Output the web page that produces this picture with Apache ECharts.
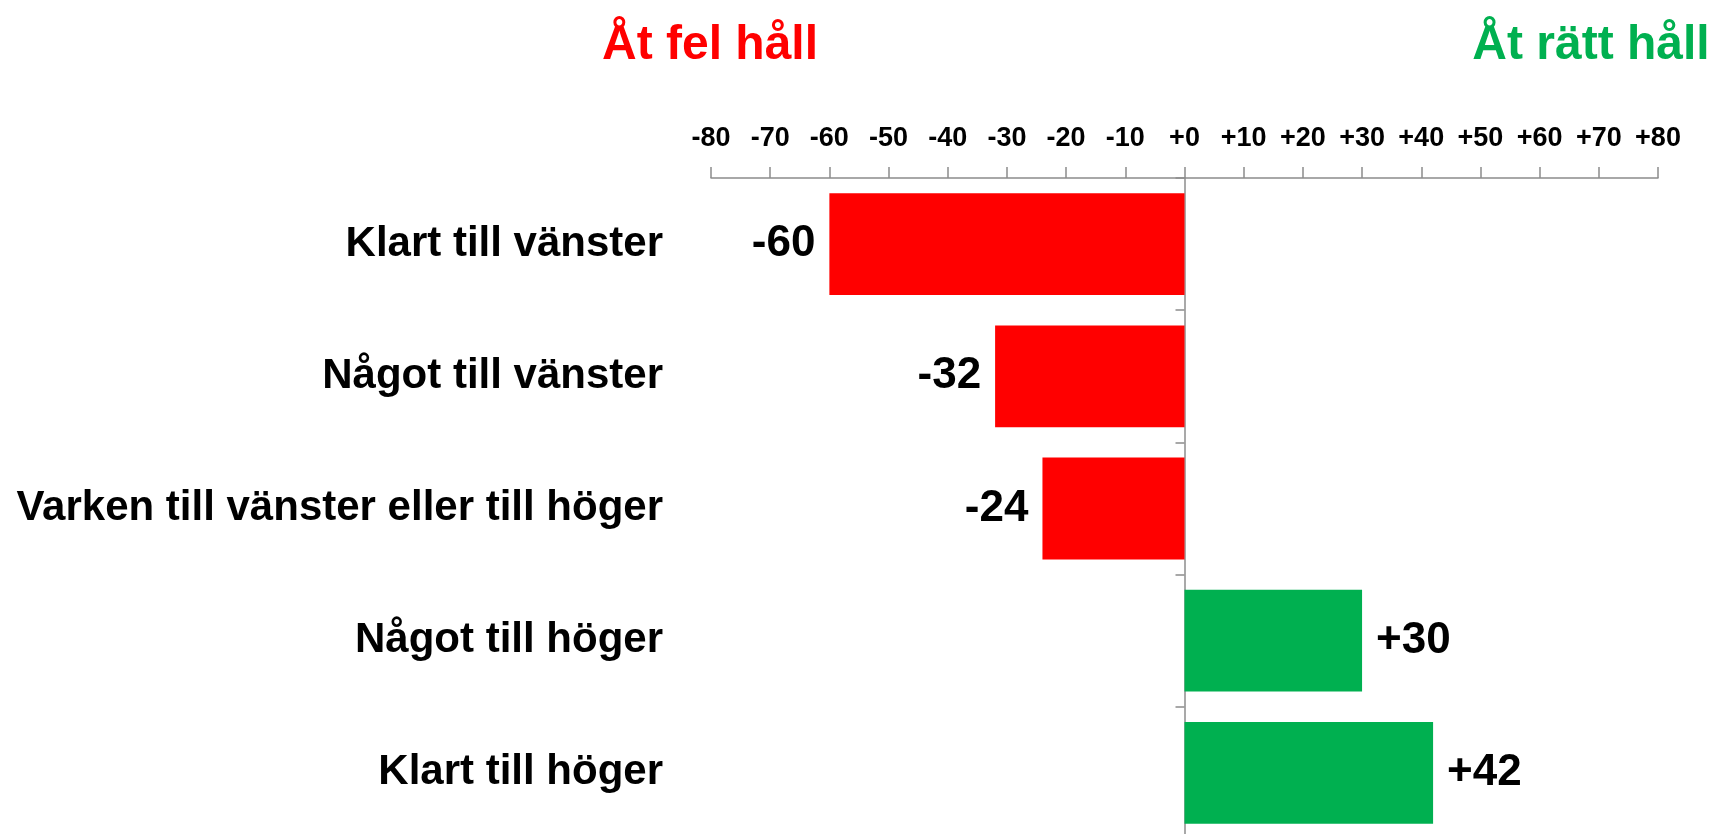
<!DOCTYPE html>
<html>
<head>
<meta charset="utf-8">
<script src="https://cdn.jsdelivr.net/npm/echarts@6/dist/echarts.min.js"></script>
<style>
  html, body { margin: 0; padding: 0; background: #fff; }
  #chart { width: 1713px; height: 834px; }
</style>
</head>
<body>
<div id="chart"></div>
<script>
var categories = ['Klart till vänster', 'Något till vänster', 'Varken till vänster eller till höger', 'Något till höger', 'Klart till höger'];
var values = [-60, -32, -24, 30, 42];
var tickLabels = ['-80', '-70', '-60', '-50', '-40', '-30', '-20', '-10', '+0', '+10', '+20', '+30', '+40', '+50', '+60', '+70', '+80'];

var FONT = '"Liberation Sans", Arial, sans-serif';
var RED = '#ff0000';
var GREEN = '#00b050';

function signed(v) {
    return v >= 0 ? '+' + v : '' + v;
}

var chart = echarts.init(document.getElementById('chart'));

var barData = values.map(function (v) {
    return {
        value: v,
        itemStyle: { color: v < 0 ? RED : GREEN },
        label: { position: v < 0 ? 'left' : 'right' }
    };
});

var option = {
    animation: false,
    backgroundColor: '#fff',
    grid: { left: 711, right: 55, top: 178, bottom: -5, containLabel: false, outerBoundsMode: 'none' },
    graphic: [
        {
            type: 'text', x: 710, y: 46,
            style: { text: 'Åt fel håll', fill: RED, font: 'bold 48px ' + FONT, align: 'center', verticalAlign: 'middle' }
        },
        {
            type: 'text', x: 1591, y: 46,
            style: { text: 'Åt rätt håll', fill: GREEN, font: 'bold 48px ' + FONT, align: 'center', verticalAlign: 'middle' }
        }
    ],
    xAxis: {
        type: 'value',
        position: 'top',
        min: -80,
        max: 80,
        interval: 10,
        axisLine: { show: true, lineStyle: { color: '#8c8c8c', width: 1.5 } },
        axisTick: { show: true, length: 11, lineStyle: { color: '#8c8c8c', width: 1.5 } },
        splitLine: { show: false },
        axisLabel: {
            margin: 26,
            color: '#000',
            fontFamily: FONT,
            fontWeight: 'bold',
            fontSize: 27,
            hideOverlap: false,
            formatter: function (v) {
                var i = Math.round((v + 80) / 10);
                return tickLabels[i];
            }
        }
    },
    yAxis: [
        {
            type: 'category',
            data: categories,
            inverse: true,
            axisLine: { show: true, onZero: true, lineStyle: { color: '#8c8c8c', width: 1.5 } },
            axisTick: { show: true, length: 9, lineStyle: { color: '#8c8c8c', width: 1.5 } },
            axisLabel: { show: false }
        },
        {
            type: 'category',
            data: categories,
            inverse: true,
            position: 'left',
            axisLine: { show: false, onZero: false },
            axisTick: { show: false },
            axisLabel: {
                margin: 48,
                color: '#000',
                fontFamily: FONT,
                fontWeight: 'bold',
                fontSize: 42
            }
        }
    ],
    series: [
        {
            type: 'bar',
            yAxisIndex: 0,
            data: barData,
            barCategoryGap: '23%',
            label: {
                show: true,
                distance: 14,
                color: '#000',
                fontFamily: FONT,
                fontWeight: 'bold',
                fontSize: 44,
                formatter: function (p) { return signed(p.value); }
            }
        }
    ]
};

chart.setOption(option);
window.addEventListener('resize', chart.resize);
</script>
</body>
</html>
